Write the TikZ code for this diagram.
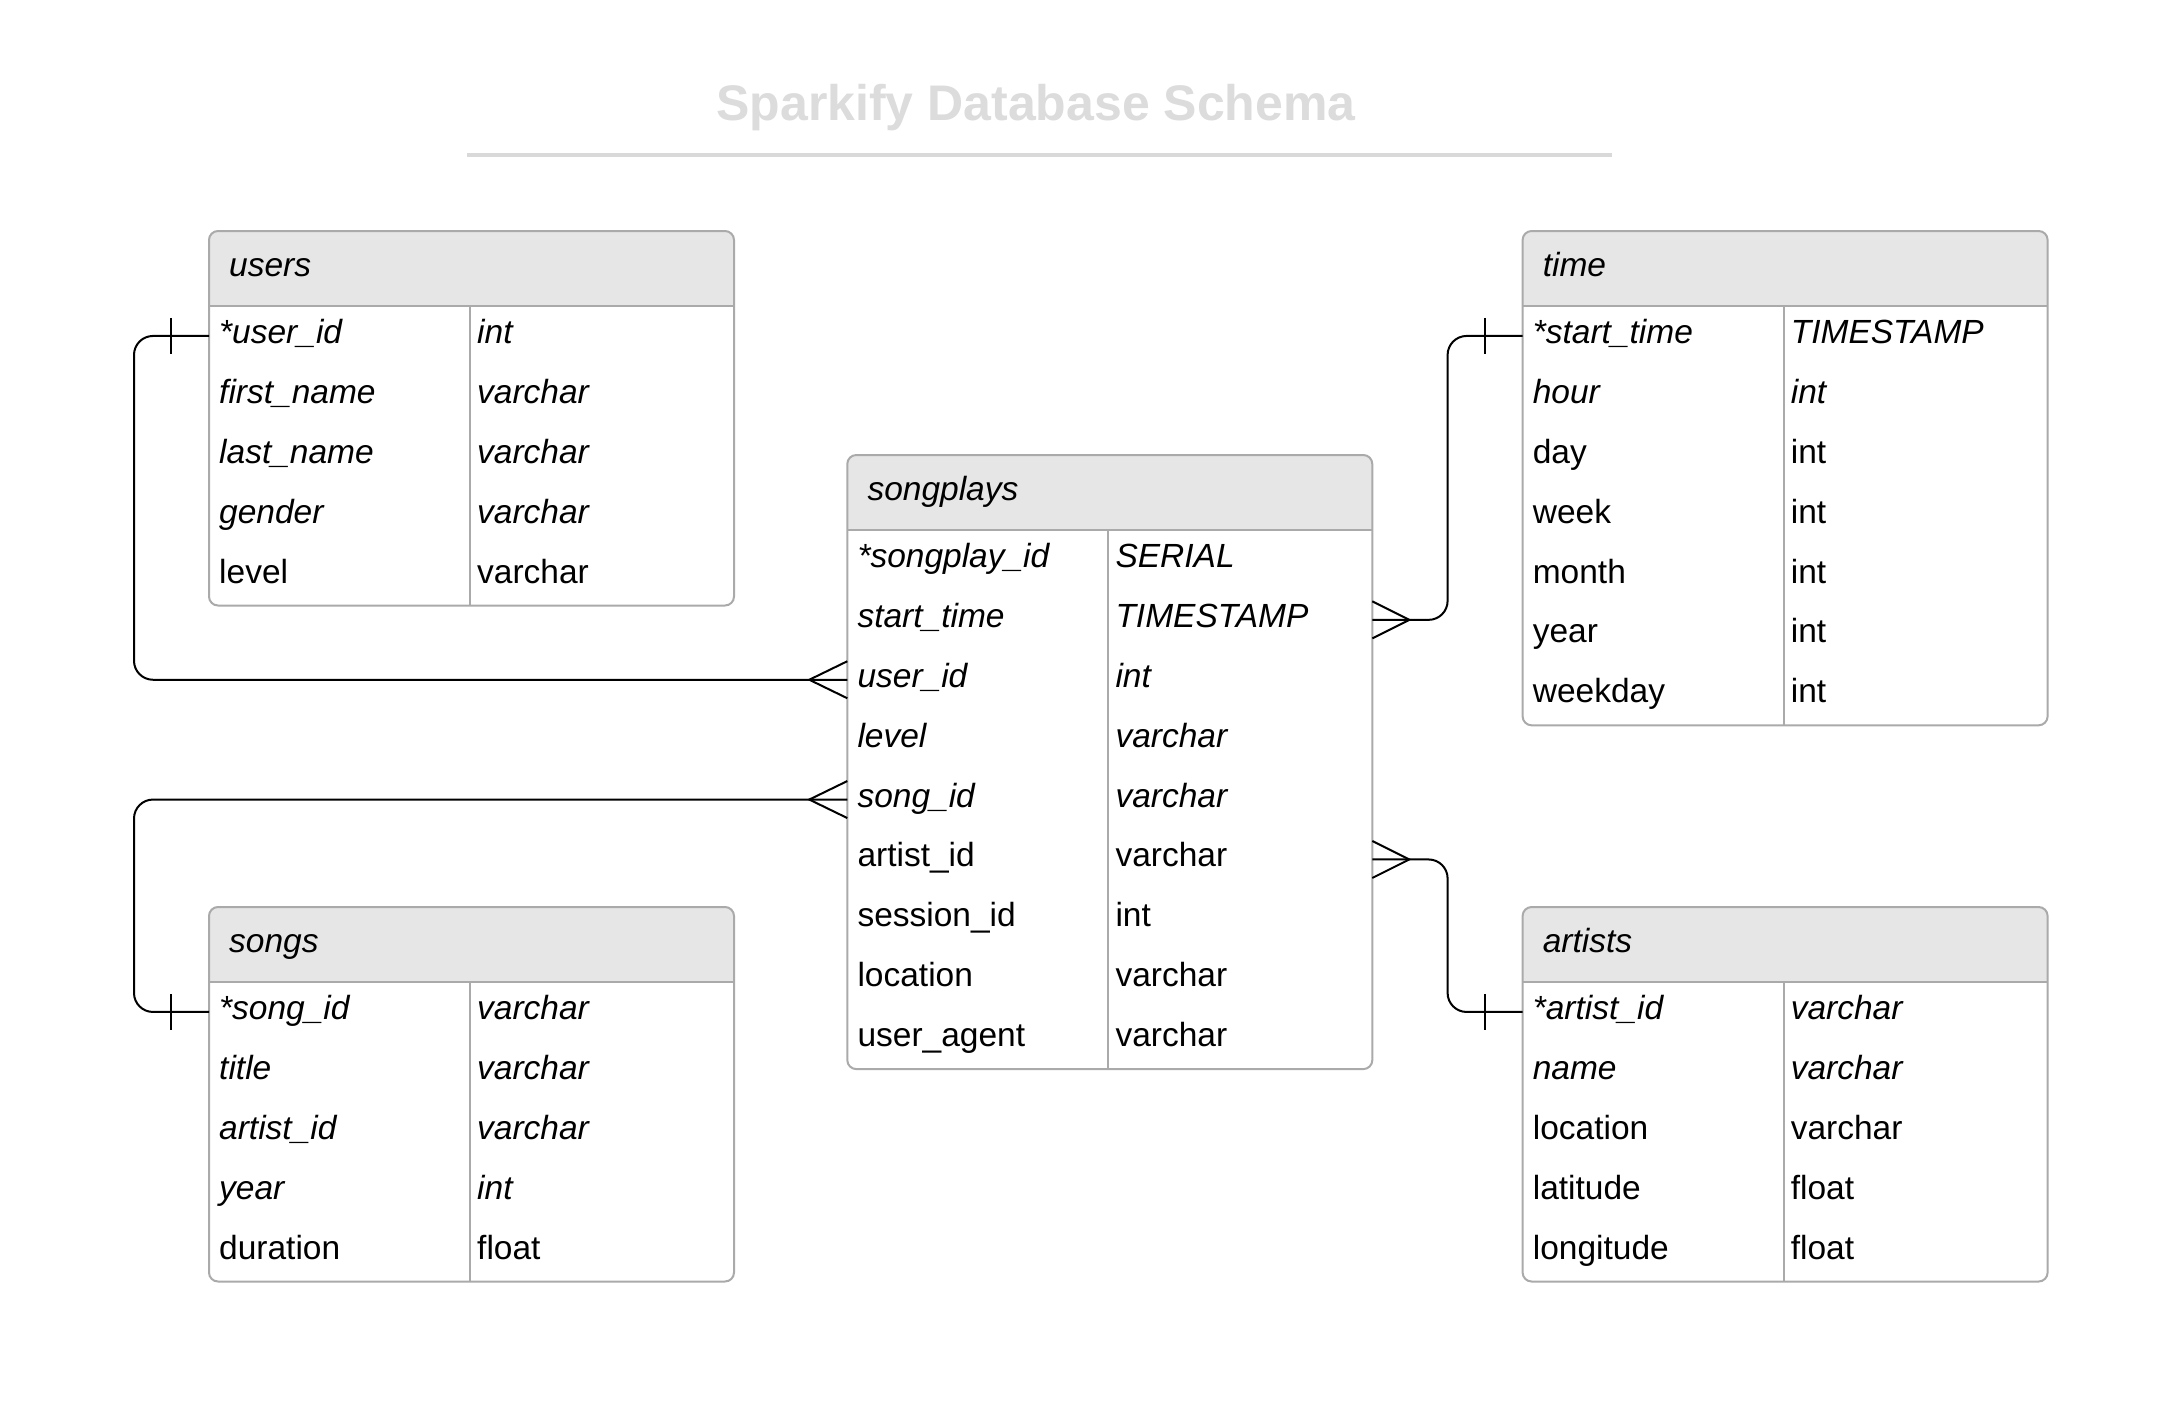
\documentclass[tikz,border=0pt]{standalone}
\usepackage{fontspec}
\setmainfont{Liberation Sans}
\definecolor{bordergray}{RGB}{170,170,170}
\definecolor{headgray}{RGB}{230,230,230}
\definecolor{titlegray}{RGB}{220,220,220}
\definecolor{rulegray}{RGB}{217,217,217}

% table frame: name, left x, top y, number of rows, title
\newcommand\ertable[5]{%
  \node[tbl, minimum height={75+#4*59.9}] (#1) at (#2,#3) {};
  \node[hdr] (#1-h) at ({#2+20},{#3+45}) {#5};
  \def\tabx{#2}\def\taby{#3}\def\tabname{#1}%
}
% table row: index, shape, field, type
\newcommand\erow[4]{%
  \coordinate (\tabname-l#1) at (\tabx,{\taby+75+(#1-0.5)*59.9});
  \coordinate (\tabname-r#1) at ({\tabx+525},{\taby+75+(#1-0.5)*59.9});
  \node[cell] (\tabname-f#1) at ({\tabx+10},{\taby+75+(#1-0.5)*59.9+7.5}) {#2#3};
  \node[cell] (\tabname-t#1) at ({\tabx+268},{\taby+75+(#1-0.5)*59.9+7.5}) {#2#4};
}
% "one" bar: coordinate, xshift
\newcommand\onemark[2]{%
  \draw[conn] ([xshift=#2,yshift=18pt]#1) -- ([xshift=#2,yshift=-18pt]#1);}
% crow's foot: coordinate, xshift of apex
\newcommand\manymark[2]{%
  \draw[conn] ([yshift=18.5pt]#1) -- ([xshift=#2]#1) -- ([yshift=-18.5pt]#1);}

\begin{document}
\begin{tikzpicture}[x=1pt, y=-1pt,
  tbl/.style={draw=bordergray, line width=2pt, fill=white, rounded corners=9pt,
    anchor=north west, minimum width=525pt, inner sep=0pt, outer sep=0pt,
    path picture={
      \fill[headgray, sharp corners] (path picture bounding box.north west)
        rectangle ([yshift=-75pt]path picture bounding box.north east);
      \draw[bordergray, line width=2pt, sharp corners]
        ([yshift=-75pt]path picture bounding box.north west)
        -- ([yshift=-75pt]path picture bounding box.north east);
      \draw[bordergray, line width=2pt, sharp corners]
        ([xshift=261pt,yshift=-75pt]path picture bounding box.north west)
        -- ([xshift=261pt]path picture bounding box.south west);
    }},
  hdr/.style={anchor=base west, inner sep=0pt, font=\fontsize{33.5}{40}\selectfont\itshape},
  cell/.style={anchor=base west, inner sep=0pt, font=\fontsize{33.5}{40}\selectfont},
  conn/.style={draw=black, line width=2pt},
]
\useasboundingbox (0,0) rectangle (2184,1416);
\fill[white] (0,0) rectangle (2184,1416);

% title
\node[font=\bfseries\fontsize{50}{60}\selectfont, text=titlegray, anchor=base, inner sep=0pt]
  (title) at (1036,120) {Sparkify Database Schema};
\coordinate (rulel) at (467,155);
\coordinate (ruler) at (1612,155);
\draw[rulegray, line width=4pt] (rulel) -- (ruler);

% users
\ertable{users}{209}{231}{5}{users}
\erow{1}{\itshape}{*user\_id}{int}
\erow{2}{\itshape}{first\_name}{varchar}
\erow{3}{\itshape}{last\_name}{varchar}
\erow{4}{\itshape}{gender}{varchar}
\erow{5}{\upshape}{level}{varchar}

% time
\ertable{time}{1522.6}{231}{7}{time}
\erow{1}{\itshape}{*start\_time}{TIMESTAMP}
\erow{2}{\itshape}{hour}{int}
\erow{3}{\upshape}{day}{int}
\erow{4}{\upshape}{week}{int}
\erow{5}{\upshape}{month}{int}
\erow{6}{\upshape}{year}{int}
\erow{7}{\upshape}{weekday}{int}

% songplays
\ertable{songplays}{847.3}{455}{9}{songplays}
\erow{1}{\itshape}{*songplay\_id}{SERIAL}
\erow{2}{\itshape}{start\_time}{TIMESTAMP}
\erow{3}{\itshape}{user\_id}{int}
\erow{4}{\itshape}{level}{varchar}
\erow{5}{\itshape}{song\_id}{varchar}
\erow{6}{\upshape}{artist\_id}{varchar}
\erow{7}{\upshape}{session\_id}{int}
\erow{8}{\upshape}{location}{varchar}
\erow{9}{\upshape}{user\_agent}{varchar}

% songs
\ertable{songs}{209}{907}{5}{songs}
\erow{1}{\itshape}{*song\_id}{varchar}
\erow{2}{\itshape}{title}{varchar}
\erow{3}{\itshape}{artist\_id}{varchar}
\erow{4}{\itshape}{year}{int}
\erow{5}{\upshape}{duration}{float}

% artists
\ertable{artists}{1522.6}{907}{5}{artists}
\erow{1}{\itshape}{*artist\_id}{varchar}
\erow{2}{\itshape}{name}{varchar}
\erow{3}{\upshape}{location}{varchar}
\erow{4}{\upshape}{latitude}{float}
\erow{5}{\upshape}{longitude}{float}

% connectors
\draw[conn, rounded corners=19pt] (users-l1) -- ++(-75,0) |- (songplays-l3);
\onemark{users-l1}{-38pt}
\manymark{songplays-l3}{-38pt}

\draw[conn, rounded corners=19pt] (songs-l1) -- ++(-75,0) |- (songplays-l5);
\onemark{songs-l1}{-38pt}
\manymark{songplays-l5}{-38pt}

\draw[conn, rounded corners=19pt] (time-l1) -- ++(-75,0) |- (songplays-r2);
\onemark{time-l1}{-38pt}
\manymark{songplays-r2}{37pt}

\draw[conn, rounded corners=19pt] (artists-l1) -- ++(-75,0) |- (songplays-r6);
\onemark{artists-l1}{-38pt}
\manymark{songplays-r6}{37pt}
\end{tikzpicture}
\end{document}
